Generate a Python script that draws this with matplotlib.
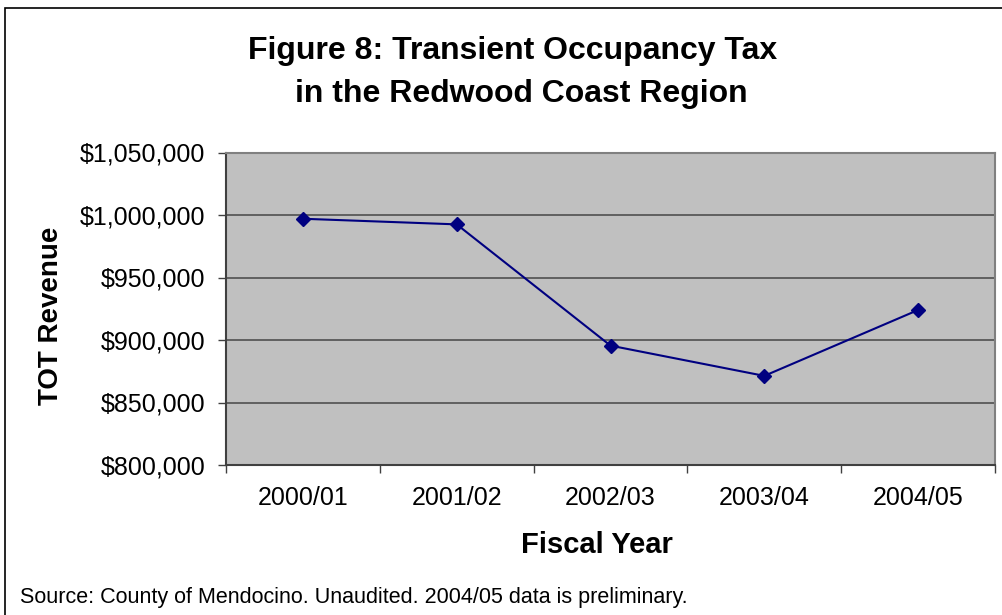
import matplotlib.pyplot as plt
from matplotlib.patches import Rectangle
from matplotlib.ticker import FuncFormatter

plt.rcParams['font.family'] = ['Liberation Sans', 'DejaVu Sans']

years = ['2000/01', '2001/02', '2002/03', '2003/04', '2004/05']
revenue = [997000, 992500, 895500, 871300, 924000]
y_ticks = [800000, 850000, 900000, 950000, 1000000, 1050000]

fig = plt.figure(figsize=(10.03, 6.15), dpi=100)

# outer chart frame (runs off the right and bottom edges)
fig.patches.append(Rectangle((5 / 1003, -0.1), 1.2, 1 - 8 / 615 + 0.1,
                             transform=fig.transFigure, fill=False,
                             edgecolor='black', linewidth=1.2))

ax = fig.add_axes([226 / 1003, 1 - 465 / 615, 769 / 1003, 312.5 / 615])
ax.set_facecolor('#c0c0c0')

x = list(range(len(years)))
ax.plot(x, revenue, color='#000080', linewidth=1.5, marker='D',
        markersize=7.5, markerfacecolor='#000080', markeredgecolor='#000080',
        zorder=3)

ax.set_xlim(-0.5, len(years) - 0.5)
ax.set_ylim(y_ticks[0], y_ticks[-1])
ax.set_yticks(y_ticks)
ax.yaxis.set_major_formatter(FuncFormatter(lambda v, p: '${:,.0f}'.format(v)))
ax.grid(axis='y', color='#505050', linewidth=1.2)
ax.set_axisbelow(True)

# category boundaries get the ticks, labels sit between them
ax.set_xticks([i - 0.5 for i in range(len(years) + 1)])
ax.set_xticklabels([])
ax.set_xticks(x, minor=True)
ax.set_xticklabels(years, minor=True)
ax.tick_params(axis='x', which='major', length=6, width=1, color='#404040')
ax.tick_params(axis='x', which='minor', length=0, pad=15, labelsize=18)
ax.tick_params(axis='y', length=6, width=1, color='#404040', pad=9,
               labelsize=18)

for side in ['top', 'right']:
    ax.spines[side].set_color('#808080')
    ax.spines[side].set_linewidth(1.5)
for side in ['left', 'bottom']:
    ax.spines[side].set_color('#404040')
    ax.spines[side].set_linewidth(1.5)

fig.text(513 / 1003, 1 - 51 / 615, 'Figure 8: Transient Occupancy Tax',
         ha='center', va='center', fontsize=23, fontweight='bold')
fig.text(521 / 1003, 1 - 94 / 615, 'in the Redwood Coast Region',
         ha='center', va='center', fontsize=23, fontweight='bold')
fig.text(51 / 1003, 1 - 316 / 615, 'TOT Revenue', rotation=90,
         ha='center', va='center', fontsize=20, fontweight='bold')
fig.text(597 / 1003, 1 - 545 / 615, 'Fiscal Year',
         ha='center', va='center', fontsize=21, fontweight='bold')
fig.text(20 / 1003, 1 - 597 / 615,
         'Source: County of Mendocino. Unaudited. 2004/05 data is preliminary.',
         ha='left', va='center', fontsize=15.5)

fig.savefig('out.png', dpi=100)
